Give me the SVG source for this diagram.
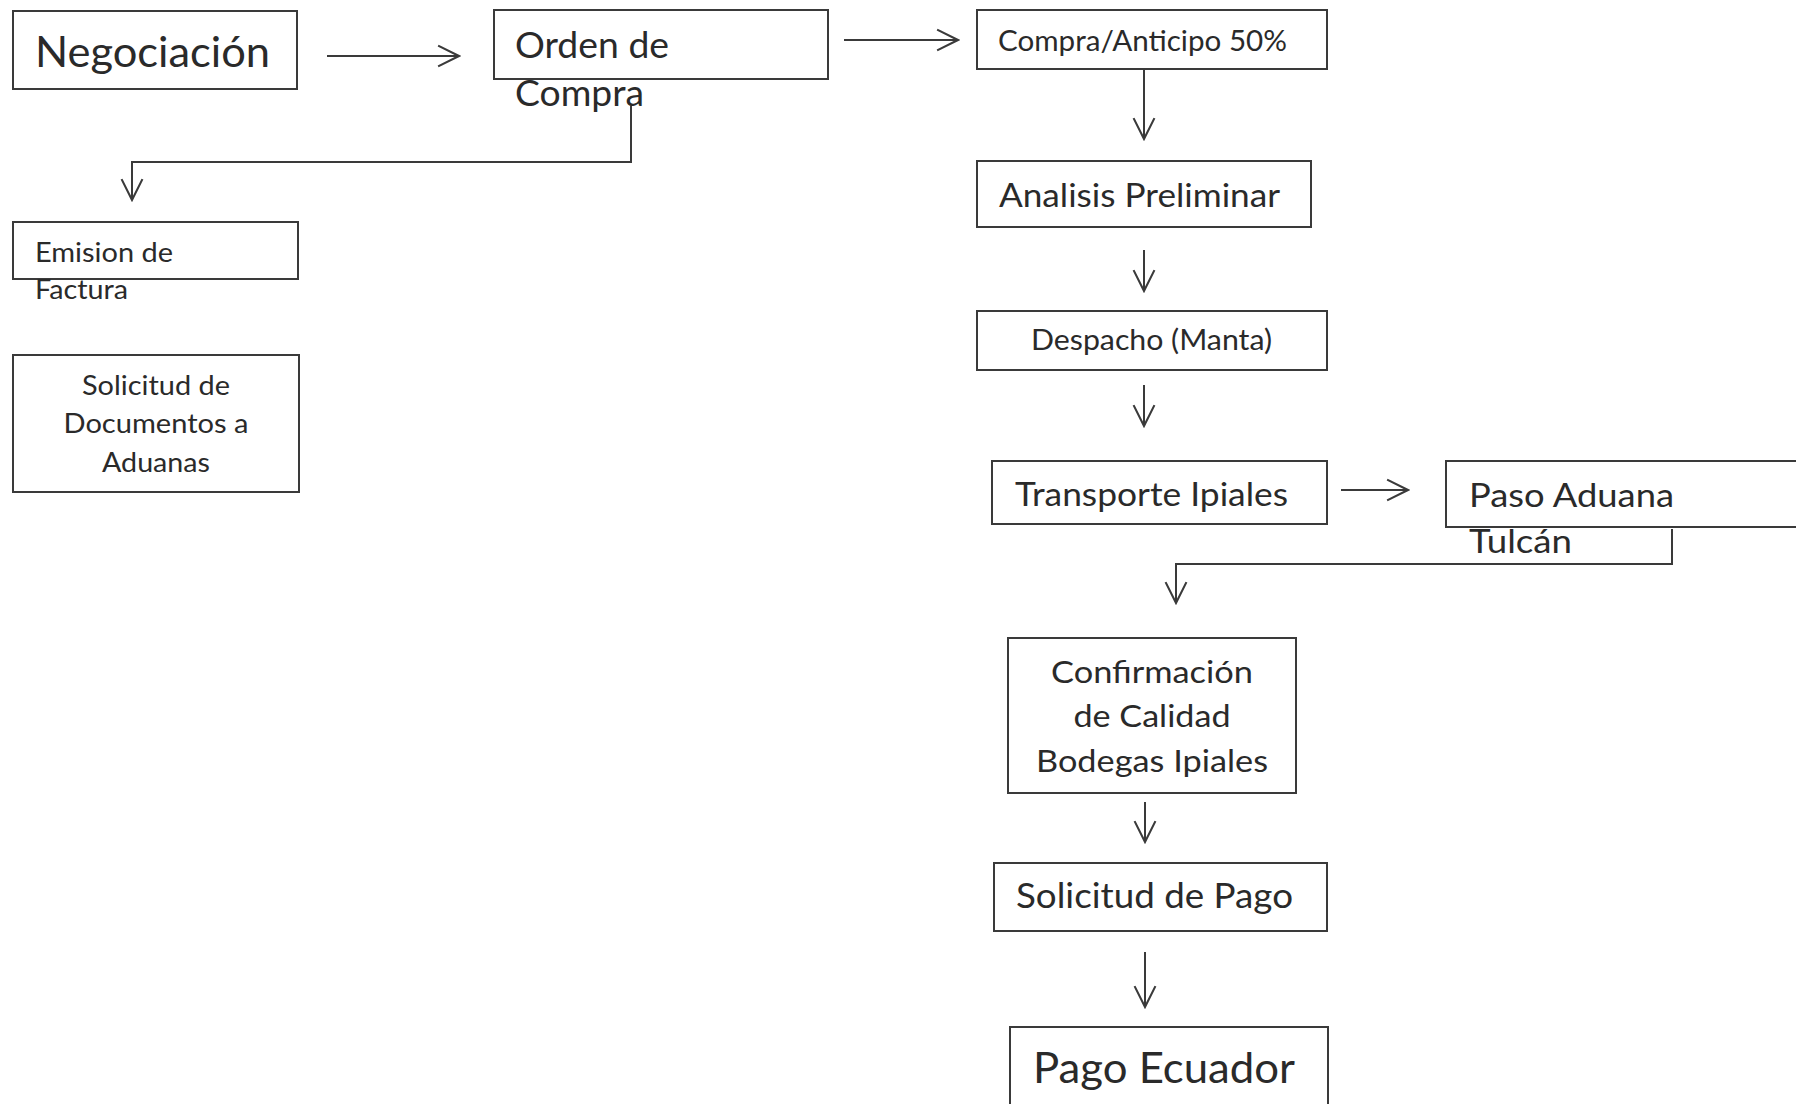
<svg xmlns="http://www.w3.org/2000/svg" width="1796" height="1104" viewBox="0 0 1796 1104">
<style>
.box{fill:#fff;stroke:#3a3a3a;stroke-width:2}
.t{font-family:Lato,"Open Sans","Liberation Sans",sans-serif;fill:#2a2a2a}
.c{fill:none;stroke:#3a3a3a;stroke-width:2}
</style>
<defs>
<marker id="ah" markerUnits="userSpaceOnUse" markerWidth="24" markerHeight="24" viewBox="-1 -11 23 22" refX="20" refY="0" orient="auto">
<path d="M0,-10 L20,0 L0,10" fill="none" stroke="#3a3a3a" stroke-width="2"/>
</marker>
</defs>
<rect width="1796" height="1104" fill="#fff"/>
<g id="n-negociacion"><rect class="box" x="13" y="11" width="284" height="78"/><text class="t" x="35" y="67" font-size="42" textLength="235" lengthAdjust="spacingAndGlyphs">Negociación</text></g>
<g id="n-orden"><rect class="box" x="494" y="10" width="334" height="69"/><text class="t" x="515" y="58" font-size="36" textLength="154" lengthAdjust="spacingAndGlyphs">Orden de</text><text class="t" x="515" y="106" font-size="36" textLength="129" lengthAdjust="spacingAndGlyphs">Compra</text></g>
<g id="n-compra"><rect class="box" x="977" y="10" width="350" height="59"/><text class="t" x="998" y="51" font-size="29" textLength="289" lengthAdjust="spacingAndGlyphs">Compra/Anticipo 50%</text></g>
<g id="n-emision"><rect class="box" x="13" y="222" width="285" height="57"/><text class="t" x="35" y="262" font-size="27" textLength="138" lengthAdjust="spacingAndGlyphs">Emision de</text><text class="t" x="35" y="299" font-size="27" textLength="93" lengthAdjust="spacingAndGlyphs">Factura</text></g>
<g id="n-solicitud-docs"><rect class="box" x="13" y="355" width="286" height="137"/>
<text class="t" x="156" y="395" font-size="27" text-anchor="middle" textLength="148" lengthAdjust="spacingAndGlyphs">Solicitud de</text>
<text class="t" x="156" y="433" font-size="27" text-anchor="middle" textLength="185" lengthAdjust="spacingAndGlyphs">Documentos a</text>
<text class="t" x="156" y="472" font-size="27" text-anchor="middle" textLength="108" lengthAdjust="spacingAndGlyphs">Aduanas</text></g>
<g id="n-analisis"><rect class="box" x="977" y="161" width="334" height="66"/><text class="t" x="999" y="207" font-size="32" textLength="281" lengthAdjust="spacingAndGlyphs">Analisis Preliminar</text></g>
<g id="n-despacho"><rect class="box" x="977" y="311" width="350" height="59"/><text class="t" x="1031" y="350" font-size="28" textLength="241" lengthAdjust="spacingAndGlyphs">Despacho (Manta)</text></g>
<g id="n-transporte"><rect class="box" x="992" y="461" width="335" height="63"/><text class="t" x="1015" y="506" font-size="33" textLength="273" lengthAdjust="spacingAndGlyphs">Transporte Ipiales</text></g>
<g id="n-paso"><rect class="box" x="1446" y="461" width="360" height="66"/><text class="t" x="1469" y="507" font-size="33" textLength="205" lengthAdjust="spacingAndGlyphs">Paso Aduana</text><text class="t" x="1469" y="553" font-size="33" textLength="103" lengthAdjust="spacingAndGlyphs">Tulcán</text></g>
<g id="n-confirmacion"><rect class="box" x="1008" y="638" width="288" height="155"/>
<text class="t" x="1152" y="683" font-size="31" text-anchor="middle" textLength="202" lengthAdjust="spacingAndGlyphs">Confirmación</text>
<text class="t" x="1152" y="727" font-size="31" text-anchor="middle" textLength="157" lengthAdjust="spacingAndGlyphs">de Calidad</text>
<text class="t" x="1152" y="772" font-size="31" text-anchor="middle" textLength="232" lengthAdjust="spacingAndGlyphs">Bodegas Ipiales</text></g>
<g id="n-solicitud-pago"><rect class="box" x="994" y="863" width="333" height="68"/><text class="t" x="1016" y="908" font-size="34" textLength="277" lengthAdjust="spacingAndGlyphs">Solicitud de Pago</text></g>
<g id="n-pago"><rect class="box" x="1010" y="1027" width="318" height="90"/><text class="t" x="1033" y="1083" font-size="42" textLength="262" lengthAdjust="spacingAndGlyphs">Pago Ecuador</text></g>
<g id="connectors">
<path class="c" d="M327,56 H459" marker-end="url(#ah)"/>
<path class="c" d="M844,40 H958" marker-end="url(#ah)"/>
<path class="c" d="M631,106 V162 H132 V200" marker-end="url(#ah)"/>
<path class="c" d="M1144,69 V139" marker-end="url(#ah)"/>
<path class="c" d="M1144,250 V291" marker-end="url(#ah)"/>
<path class="c" d="M1144,385 V426" marker-end="url(#ah)"/>
<path class="c" d="M1341,490 H1408" marker-end="url(#ah)"/>
<path class="c" d="M1672,529 V564 H1176 V603" marker-end="url(#ah)"/>
<path class="c" d="M1145,802 V842" marker-end="url(#ah)"/>
<path class="c" d="M1145,952 V1007" marker-end="url(#ah)"/>
</g>
</svg>
